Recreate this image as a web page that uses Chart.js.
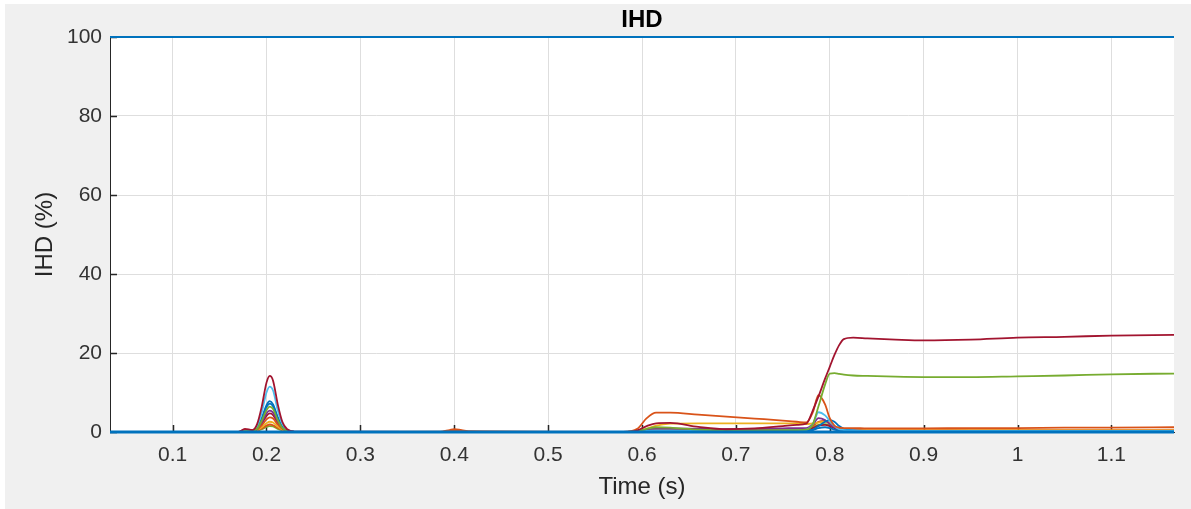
<!DOCTYPE html>
<html><head><meta charset="utf-8">
<script src="https://cdn.jsdelivr.net/npm/chart.js@4.4.1/dist/chart.umd.min.js"></script>
<style>
html,body{margin:0;padding:0;background:#fff;}
#wrap{position:absolute;left:5px;top:4px;width:1186px;height:505px;background:#f0f0f0;}
canvas{display:block;}
</style></head><body>
<div id="wrap"><canvas id="c" width="1186" height="505"></canvas></div>
<script>
// ---- data ----
const TIME = [0.0333, 0.17, 0.177, 0.185, 0.19, 0.195, 0.2, 0.2035, 0.207, 0.212, 0.217, 0.222, 0.23,
  0.385, 0.395, 0.4, 0.405, 0.415,
  0.58, 0.595, 0.605, 0.615, 0.63, 0.66, 0.69, 0.72, 0.75, 0.765, 0.775,
  0.782, 0.788, 0.795, 0.8, 0.805, 0.81, 0.815, 0.825,
  0.84, 0.87, 0.9, 0.95, 1.0, 1.05, 1.1, 1.1667];

const darkRed = [0, 0, 0.8, 0.5, 2, 6.5, 12.5, 14.2, 13, 7, 2.5, 0.7, 0.1,
  0, 0, 0, 0, 0,
  0, 0.4, 1.5, 2.2, 2.3, 1.3, 0.7, 0.9, 1.5, 1.8, 2.1,
  5.5, 9, 13.5, 16.5, 19.5, 22, 23.5, 23.9,
  23.7, 23.4, 23.2, 23.4, 23.9, 24.1, 24.4, 24.6];
const green = [0, 0, 0.2, 0.3, 0.8, 2.9, 5.5, 6.4, 5.8, 3, 1, 0.3, 0,
  0, 0, 0, 0, 0,
  0, 0.2, 0.8, 1.2, 1.1, 0.6, 0.4, 0.4, 0.5, 0.5, 0.6,
  2, 6.5, 12, 14.8, 14.9, 14.7, 14.5, 14.3,
  14.2, 14.0, 13.9, 13.9, 14.1, 14.3, 14.6, 14.8];
const orange = [0, 0, 0.6, 0.5, 0.8, 1.7, 3.2, 3.7, 3.4, 1.9, 0.8, 0.3, 0,
  0.1, 0.5, 0.7, 0.6, 0.2,
  0, 0.8, 3.5, 4.9, 4.9, 4.4, 3.9, 3.4, 2.9, 2.6, 2.4,
  5, 9.3, 7, 3.5, 1.6, 1.1, 1.0, 1.0,
  0.9, 0.9, 0.9, 1.0, 1.0, 1.1, 1.1, 1.2];
const lightBlue = [0, 0, 0.3, 0.4, 1.5, 5, 10, 11.5, 10.5, 5.5, 2, 0.5, 0.1,
  0, 0, 0, 0, 0,
  0, 0.1, 0.3, 0.4, 0.4, 0.3, 0.3, 0.3, 0.4, 0.5, 0.6,
  2, 5, 4.2, 2.8, 1.5, 0.7, 0.5, 0.4,
  0.3, 0.3, 0.3, 0.3, 0.3, 0.3, 0.3, 0.3];
const blueA = [0, 0, 0.2, 0.3, 1, 3.5, 6.8, 7.8, 7, 3.8, 1.3, 0.4, 0,
  0, 0, 0, 0, 0,
  0, 0, 0.1, 0.2, 0.2, 0.2, 0.2, 0.2, 0.3, 0.3, 0.3,
  0.6, 1.5, 2.6, 3.0, 2.6, 1.5, 0.8, 0.4,
  0.3, 0.3, 0.3, 0.3, 0.3, 0.3, 0.3, 0.3];
const blueB = [0, 0, 0.2, 0.3, 0.9, 3.2, 6.3, 7.2, 6.5, 3.4, 1.2, 0.3, 0,
  0, 0, 0, 0, 0,
  0, 0, 0.1, 0.1, 0.1, 0.1, 0.1, 0.1, 0.1, 0.1, 0.2,
  0.5, 1.0, 1.2, 1.0, 0.6, 0.3, 0.2, 0.2,
  0.1, 0.1, 0.1, 0.1, 0.1, 0.1, 0.1, 0.1];
const purple = [0, 0, 0.3, 0.3, 0.7, 2.4, 4.7, 5.4, 4.9, 2.6, 0.9, 0.3, 0,
  0, 0, 0, 0, 0,
  0, 0.2, 0.6, 0.9, 0.9, 0.8, 0.7, 0.8, 0.9, 1.0, 1.0,
  2, 3.5, 3, 2, 1.2, 0.7, 0.5, 0.4,
  0.3, 0.3, 0.3, 0.3, 0.3, 0.3, 0.3, 0.3];
const redB = [0, 0, 0.5, 0.4, 0.7, 2.1, 4.1, 4.7, 4.3, 2.3, 0.9, 0.3, 0,
  0, 0, 0, 0, 0,
  0, 0.1, 0.3, 0.5, 0.5, 0.4, 0.4, 0.4, 0.5, 0.5, 0.5,
  1.0, 1.6, 1.8, 1.5, 1.0, 0.6, 0.4, 0.3,
  0.2, 0.2, 0.2, 0.2, 0.2, 0.2, 0.2, 0.2];
const yellow = [0, 0, 0.3, 0.3, 0.5, 1.2, 2.2, 2.6, 2.4, 1.4, 0.6, 0.2, 0,
  0, 0, 0, 0, 0,
  0, 0.2, 0.8, 1.6, 2.1, 2.2, 2.2, 2.2, 2.2, 2.2, 2.0,
  2.2, 2.4, 2.6, 2.2, 1.4, 0.8, 0.5, 0.4,
  0.4, 0.4, 0.4, 0.4, 0.4, 0.4, 0.4, 0.4];
const orangeB = [0, 0, 0.4, 0.3, 0.4, 0.9, 1.6, 1.9, 1.7, 1.0, 0.5, 0.2, 0,
  0, 0.3, 0.4, 0.3, 0.1,
  0, 0.1, 0.3, 0.5, 0.6, 0.6, 0.6, 0.6, 0.7, 0.7, 0.8,
  1.5, 2.6, 2.8, 2.2, 1.3, 0.8, 0.6, 0.5,
  0.5, 0.5, 0.5, 0.5, 0.5, 0.5, 0.5, 0.5];
const greenB = [0, 0, 0.2, 0.2, 0.3, 0.7, 1.3, 1.5, 1.4, 0.8, 0.4, 0.1, 0,
  0, 0, 0, 0, 0,
  0, 0.1, 0.4, 0.7, 0.8, 0.6, 0.5, 0.5, 0.6, 0.6, 0.6,
  1.2, 1.8, 2, 1.7, 1.1, 0.6, 0.4, 0.3,
  0.3, 0.3, 0.3, 0.3, 0.3, 0.3, 0.3, 0.3];

const flatTime = [0.0333, 1.1667];
const baseline = [0, 0];
const topLine = [100, 100];

const xTickValues = [0.1, 0.2, 0.3, 0.4, 0.5, 0.6, 0.7, 0.8, 0.9, 1.0, 1.1];
const xTickLabels = ['0.1', '0.2', '0.3', '0.4', '0.5', '0.6', '0.7', '0.8', '0.9', '1', '1.1'];
const yTickValues = [0, 20, 40, 60, 80, 100];
const yTickLabels = ['0', '20', '40', '60', '80', '100'];

// ---- build ----
const C = {blue:'#0072BD', orange:'#D95319', yellow:'#EDB120', purple:'#7E2F8E', green:'#77AC30', lblue:'#4DBEEE', dred:'#A2142F'};
function pts(t, v){ return t.map((x,i)=>({x:x, y:v[i]})); }
function ds(t, v, color, w){
  return {data: pts(t, v), borderColor: color, borderWidth: w || 1.8, pointRadius: 0,
          cubicInterpolationMode: 'monotone', fill: false, clip: 6};
}
const datasets = [
  ds(flatTime, baseline, C.blue, 2.8),
  ds(flatTime, topLine, C.blue, 2.2),
  ds(TIME, darkRed, C.dred),
  ds(TIME, green, C.green),
  ds(TIME, orange, C.orange),
  ds(TIME, lightBlue, C.lblue),
  ds(TIME, blueA, C.blue),
  ds(TIME, blueB, C.blue),
  ds(TIME, purple, C.purple),
  ds(TIME, redB, C.dred),
  ds(TIME, yellow, C.yellow),
  ds(TIME, orangeB, C.orange),
  ds(TIME, greenB, C.green)
];

const FONT = '"Liberation Sans", Arial, Helvetica, sans-serif';
const AX = '#262626';

const plotBg = {
  id: 'plotBg',
  beforeDraw(chart){
    const a = chart.chartArea, ctx = chart.ctx;
    ctx.save(); ctx.fillStyle = '#ffffff';
    ctx.fillRect(a.left, a.top, a.right - a.left, a.bottom - a.top);
    ctx.restore();
  }
};
const inTicks = {
  id: 'inTicks',
  beforeDatasetsDraw(chart){
    const a = chart.chartArea, ctx = chart.ctx;
    const xs = chart.scales.x, ys = chart.scales.y;
    ctx.save(); ctx.strokeStyle = AX; ctx.lineWidth = 1.5;
    ctx.beginPath();
    xTickValues.forEach(v => { const p = Math.round(xs.getPixelForValue(v)) + 0.5; ctx.moveTo(p, a.bottom); ctx.lineTo(p, a.bottom - 7); });
    yTickValues.forEach(v => { const p = Math.round(ys.getPixelForValue(v)) + 0.5; ctx.moveTo(a.left, p); ctx.lineTo(a.left + 7, p); });
    ctx.stroke(); ctx.restore();
  }
};

new Chart(document.getElementById('c'), {
  type: 'line',
  data: {datasets},
  plugins: [plotBg, inTicks],
  options: {
    responsive: false, animation: false, devicePixelRatio: 1,
    layout: {padding: {left: 0, right: 17, top: 0, bottom: 0}},
    plugins: {
      legend: {display: false}, tooltip: {enabled: false},
      title: {display: true, text: 'IHD', fullSize: false, color: '#000',
        font: {family: FONT, size: 24, weight: 'bold'}, padding: {top: 2, bottom: 2.2}}
    },
    scales: {
      x: {
        type: 'linear', min: 0.0333, max: 1.1667,
        afterBuildTicks: s => { s.ticks = xTickValues.map(v => ({value: v})); },
        afterFit: s => { s.height = 77; },
        ticks: {callback: (v, i) => xTickLabels[i], color: '#333', font: {family: FONT, size: 21}, padding: 11, maxRotation: 0, autoSkip: false},
        grid: {color: '#dedede', lineWidth: 1, drawTicks: false},
        border: {color: AX, width: 1},
        title: {display: true, text: 'Time (s)', color: '#262626', font: {family: FONT, size: 24}, padding: {top: 0, bottom: 7.6}}
      },
      y: {
        type: 'linear', min: 0, max: 100,
        afterBuildTicks: s => { s.ticks = yTickValues.map(v => ({value: v})); },
        afterFit: s => { s.width = 105; },
        ticks: {callback: (v, i) => yTickLabels[i], color: '#333', font: {family: FONT, size: 21}, padding: 8},
        grid: {color: '#dedede', lineWidth: 1, drawTicks: false},
        border: {color: AX, width: 1},
        title: {display: true, text: 'IHD (%)', color: '#262626', font: {family: FONT, size: 24}, padding: {top: 25.6, bottom: 0}}
      }
    }
  }
});
</script>
</body></html>
